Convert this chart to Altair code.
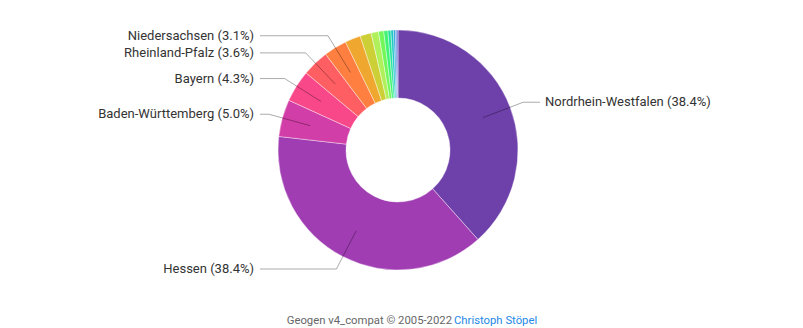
import math
import altair as alt
import pandas as pd

states = [
    "Nordrhein-Westfalen", "Hessen", "Baden-Württemberg", "Bayern",
    "Rheinland-Pfalz", "Niedersachsen", "Sachsen", "Berlin",
    "Schleswig-Holstein", "Brandenburg", "Hamburg", "Thüringen",
    "Sachsen-Anhalt", "Mecklenburg-Vorpommern", "Saarland", "Bremen",
]
shares = [38.4, 38.4, 5.0, 4.3, 3.6, 3.1, 2.1, 1.5, 1.0, 0.7, 0.55, 0.4, 0.35, 0.25, 0.2, 0.15]
footer_text = ["Geogen v4_compat © 2005-2022 "]
footer_link = ["Christoph Stöpel"]


def rainbow(t):
    # d3.interpolateRainbow (cubehelix)
    ts = abs(t - 0.5)
    h = 360 * t - 100
    s = 1.5 - 1.5 * ts
    l = 0.8 - 0.9 * ts
    hr = math.radians(h + 120)
    a = s * l * (1 - l)
    ch, sh = math.cos(hr), math.sin(hr)
    r = l + a * (-0.14861 * ch + 1.78277 * sh)
    g = l + a * (-0.29227 * ch - 0.90649 * sh)
    b = l + a * (1.97294 * ch)
    clip = lambda v: max(0, min(255, round(v * 255)))
    return "#%02x%02x%02x" % (clip(r), clip(g), clip(b))


palette = [rainbow(i / len(states)) for i in range(len(states))]

df = pd.DataFrame({"state": states, "share": shares, "idx": list(range(len(states)))})

base = alt.Chart(df)

arcs = base.mark_arc(
    outerRadius=120, innerRadius=52, stroke="white", strokeWidth=0.4, x=398, y=150
).encode(
    theta=alt.Theta("share:Q", stack=True),
    color=alt.Color("state:N", scale=alt.Scale(domain=states, range=palette), legend=None),
    order=alt.Order("idx:Q"),
)

xs = alt.Scale(domain=[-398, 405], nice=False, zero=False)
ys = alt.Scale(domain=[-178, 150], nice=False, zero=False)

lab = base.transform_window(
    cum="sum(share)", sort=[alt.SortField("idx")], frame=[None, 0]
).transform_joinaggregate(
    total="sum(share)"
).transform_calculate(
    a="2*PI*(datum.cum - datum.share/2)/datum.total",
).transform_calculate(
    x1="91*sin(datum.a)", y1="91*cos(datum.a)",
    x2="134*sin(datum.a)", y2="134*cos(datum.a)",
    side="sin(datum.a) >= 0 ? 1 : -1",
).transform_calculate(
    x3="datum.side > 0 ? 142 : -138",
    xt="datum.side > 0 ? 147 : -144",
    label="datum.state + ' (' + format(datum.share, '.1f') + '%)'",
).transform_filter("datum.share >= 3")

rule1 = lab.mark_rule(color="#000", opacity=0.33, strokeWidth=1).encode(
    x=alt.X("x1:Q", scale=xs, axis=None),
    y=alt.Y("y1:Q", scale=ys, axis=None),
    x2="x2:Q", y2="y2:Q",
)
rule2 = lab.mark_rule(color="#000", opacity=0.33, strokeWidth=1).encode(
    x=alt.X("x2:Q", scale=xs, axis=None),
    y=alt.Y("y2:Q", scale=ys, axis=None),
    x2="x3:Q",
)
text_r = lab.transform_filter("datum.side > 0").mark_text(
    align="left", baseline="middle", fontSize=13, color="#333", font="Roboto"
).encode(
    x=alt.X("xt:Q", scale=xs, axis=None),
    y=alt.Y("y2:Q", scale=ys, axis=None),
    text="label:N",
)
text_l = lab.transform_filter("datum.side < 0").mark_text(
    align="right", baseline="middle", fontSize=13, color="#333", font="Roboto"
).encode(
    x=alt.X("xt:Q", scale=xs, axis=None),
    y=alt.Y("y2:Q", scale=ys, axis=None),
    text="label:N",
)

foot1 = alt.Chart(pd.DataFrame({"t": footer_text})).mark_text(
    align="right", baseline="middle", fontSize=11.3, color="#666", font="Roboto"
).encode(text="t:N", x=alt.value(452), y=alt.value(321))
foot2 = alt.Chart(pd.DataFrame({"t": footer_link})).mark_text(
    align="left", baseline="middle", fontSize=11.3, color="#1e88e5", font="Roboto"
).encode(text="t:N", x=alt.value(454), y=alt.value(321))

chart = alt.layer(arcs, rule1, rule2, text_r, text_l, foot1, foot2).properties(
    width=803, height=328, padding=0, autosize=alt.AutoSizeParams(type="none")
).configure_view(stroke=None)

chart.save("out.html", embed_options={"renderer": "svg", "actions": False})
